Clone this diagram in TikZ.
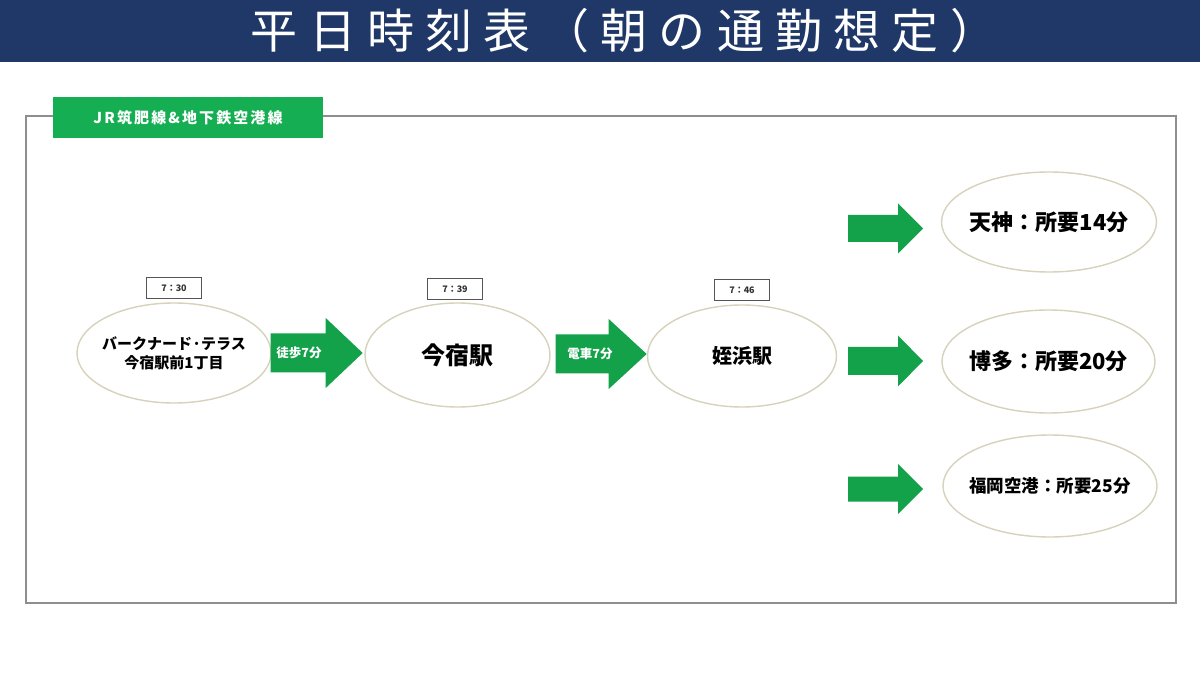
\documentclass[tikz,border=0pt]{standalone}
\usepackage{fontspec}
\setmainfont{Noto Sans CJK JP}
\usetikzlibrary{shapes.geometric,calc}
\definecolor{navy}{HTML}{1F3868}
\definecolor{lblgreen}{HTML}{15AE52}
\definecolor{argreen}{HTML}{13A24A}
\definecolor{ellc}{HTML}{D6D2BC}
\definecolor{framec}{HTML}{8E8E8E}
\definecolor{timec}{HTML}{555555}
\begin{document}
\begin{tikzpicture}[x=1pt,y=-1pt,
  stn/.style={ellipse, draw=ellc, line width=1.4pt, inner sep=0pt},
  stnlbl/.style={align=center, text=black, inner sep=0pt},
  tbox/.style={draw=timec, line width=1pt, minimum width=55pt, minimum height=21pt, inner sep=0pt, font=\bfseries\fontsize{9}{10}\selectfont, text=black!80},
  artext/.style={text=white, font=\bfseries\fontsize{12.5}{14}\selectfont, inner sep=0pt},
  pics/barrow/.style n args={4}{code={
    \fill[argreen] (0,-#2) -- ({#1-#4},-#2) -- ({#1-#4},-#3) -- (#1,0) -- ({#1-#4},#3) -- ({#1-#4},#2) -- (0,#2) -- cycle;}}
]
\useasboundingbox (0,0) rectangle (1200,676);
\fill[white] (0,0) rectangle (1200,676);
\fill[navy] (0,0) rectangle (1200,62);
\node[text=white, inner sep=0pt, font=\fontsize{47}{50}\selectfont\addfontfeature{LetterSpace=24}] (title) at (624,31) {平日時刻表（朝の通勤想定）};

\draw[framec, line width=1.8pt] (26,116) rectangle (1176,603);
\node[fill=lblgreen, text=white, font=\bfseries\fontsize{15}{18}\selectfont\addfontfeature{LetterSpace=14}, minimum width=270pt, minimum height=41pt, inner sep=0pt] (line) at (188,117.5) {JR筑肥線\&地下鉄空港線};

% stations
\node[stn, minimum width=194pt, minimum height=100pt,
  label={[stnlbl, font=\bfseries\fontsize{15}{19}\selectfont]center:{バークナード·テラス\\今宿駅前1丁目}}] (e1) at (174,353) {};
\node[stn, minimum width=185pt, minimum height=104pt,
  label={[stnlbl, font=\bfseries\fontsize{24}{26}\selectfont]center:今宿駅}] (e2) at (457.5,355) {};
\node[stn, minimum width=189pt, minimum height=102pt,
  label={[stnlbl, font=\bfseries\fontsize{20}{22}\selectfont]center:姪浜駅}] (e3) at (742,356) {};
\node[stn, minimum width=215pt, minimum height=100pt,
  label={[stnlbl, font=\bfseries\fontsize{22}{24}\selectfont]center:天神：所要14分}] (e4) at (1049,222) {};
\node[stn, minimum width=213pt, minimum height=103pt,
  label={[stnlbl, font=\bfseries\fontsize{22}{24}\selectfont]center:博多：所要20分}] (e5) at (1048.5,361.5) {};
\node[stn, minimum width=214pt, minimum height=102pt,
  label={[stnlbl, font=\bfseries\fontsize{17.5}{20}\selectfont]center:福岡空港：所要25分}] (e6) at (1050,486) {};

% times
\node[tbox] (t1) at (174,288) {7：30};
\node[tbox] (t2) at (455,289.5) {7：39};
\node[tbox] (t3) at (742,290) {7：46};

% connectors (block arrows)
\coordinate (a1) at ($(e1.east)+(-1,0)$);
\coordinate (a2) at ($(e2.east)+(5,-1)$);
\pic at (a1) {barrow={92}{19.5}{35}{37}};
\pic at (a2) {barrow={91}{19.5}{35}{38}};
\node[artext] (w1) at (299,353) {徒歩7分};
\node[artext] (w2) at (590,354) {電車7分};

\coordinate (r1) at (848,228.5);
\coordinate (r2) at (848,361);
\coordinate (r3) at (848,489);
\pic at (r1) {barrow={75}{13.5}{25}{25}};
\pic at (r2) {barrow={75}{14}{25.5}{25}};
\pic at (r3) {barrow={75}{12.5}{25}{25}};
\end{tikzpicture}
\end{document}
